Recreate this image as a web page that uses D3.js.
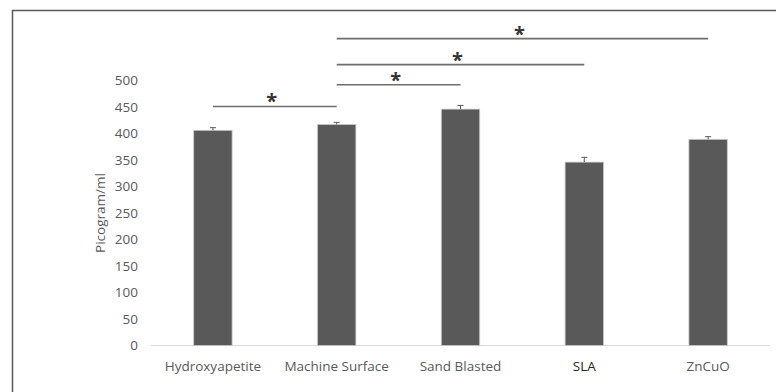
<!DOCTYPE html>
<html>
<head>
    <script type="text/javascript" src="https://d3js.org/d3.v7.min.js"></script>
    <style type="text/css">
        body { margin: 0; background: #fff; }
        text { font-family: "Open Sans", sans-serif; }
    </style>
</head>
<body>
<div id="chart"></div>
<script type="text/javascript">
    var w = 776,
        h = 392;

    var categories = ["Hydroxyapetite", "Machine Surface", "Sand Blasted", "SLA", "ZnCuO"];
    var values = [406, 417, 446, 346, 389];
    var errors = [5, 4, 7, 9, 5];
    var yTicks = [0, 50, 100, 150, 200, 250, 300, 350, 400, 450, 500];

    // significance brackets: [from, to, level]
    var sigFrom = ["Hydroxyapetite", "Machine Surface", "Machine Surface", "Machine Surface"];
    var sigTo = ["Machine Surface", "Sand Blasted", "SLA", "ZnCuO"];
    var sigLevel = [451, 492, 530, 579];

    var x = d3.scaleBand()
        .domain(categories)
        .range([151, 770])
        .paddingInner(0.69)
        .paddingOuter(0.345);

    var y = d3.scaleLinear()
        .domain([0, 500])
        .range([345.5, 80.5]);

    var svg = d3.select("#chart")
        .append("svg")
        .attr("width", w)
        .attr("height", h);

    // frame
    svg.append("path")
        .attr("d", "M12.5," + h + "V10.5H" + w)
        .attr("fill", "none")
        .attr("stroke", "#595959")
        .attr("stroke-width", 1.5);

    // y tick labels
    svg.append("g")
        .selectAll("text")
        .data(yTicks)
        .enter().append("text")
        .attr("x", 138)
        .attr("y", function(d) { return y(d); })
        .attr("dy", "0.35em")
        .attr("text-anchor", "end")
        .attr("font-size", 13.5)
        .attr("fill", "#595959")
        .text(function(d) { return d; });

    svg.append("text")
        .attr("transform", "translate(105," + y(250) + ") rotate(-90)")
        .attr("text-anchor", "middle")
        .attr("font-size", 13.5)
        .attr("fill", "#595959")
        .text("Picogram/ml");

    // baseline
    svg.append("line")
        .attr("x1", 151).attr("x2", 770)
        .attr("y1", y(0)).attr("y2", y(0))
        .attr("stroke", "#d9d9d9")
        .attr("stroke-width", 1);

    // bars
    svg.append("g")
        .selectAll("rect")
        .data(values)
        .enter().append("rect")
        .attr("x", function(d, i) { return x(categories[i]); })
        .attr("y", function(d) { return y(d); })
        .attr("width", x.bandwidth())
        .attr("height", function(d) { return y(0) - y(d); })
        .attr("fill", "#595959")
        .attr("stroke", "#c8c8c8")
        .attr("stroke-width", 0.8);

    // error bars
    var eb = svg.append("g").attr("stroke", "#595959").attr("stroke-width", 1);
    values.forEach(function(v, i) {
        var cx = x(categories[i]) + x.bandwidth() / 2;
        eb.append("line")
            .attr("x1", cx).attr("x2", cx)
            .attr("y1", y(v)).attr("y2", y(v + errors[i]));
        eb.append("line")
            .attr("x1", cx - 3).attr("x2", cx + 3)
            .attr("y1", y(v + errors[i])).attr("y2", y(v + errors[i]));
    });

    // category labels
    svg.append("g")
        .selectAll("text")
        .data(categories)
        .enter().append("text")
        .attr("x", function(d) { return x(d) + x.bandwidth() / 2; })
        .attr("y", 366)
        .attr("dy", "0.35em")
        .attr("text-anchor", "middle")
        .attr("font-size", 13.5)
        .attr("fill", function(d) { return d === "SLA" ? "#262626" : "#595959"; })
        .text(function(d) { return d; });

    // significance lines and stars
    var sig = svg.append("g");
    sigLevel.forEach(function(lv, i) {
        var x1 = x(sigFrom[i]) + x.bandwidth() / 2,
            x2 = x(sigTo[i]) + x.bandwidth() / 2;
        sig.append("line")
            .attr("x1", x1).attr("x2", x2)
            .attr("y1", y(lv)).attr("y2", y(lv))
            .attr("stroke", "#6e6e6e")
            .attr("stroke-width", 1.6);
        sig.append("text")
            .attr("x", (x1 + x2) / 2 - 3)
            .attr("y", y(lv) + 2)
            .attr("text-anchor", "middle")
            .attr("font-size", 20)
            .attr("font-weight", "bold")
            .attr("fill", "#333")
            .text("*");
    });
</script>
</body>
</html>
